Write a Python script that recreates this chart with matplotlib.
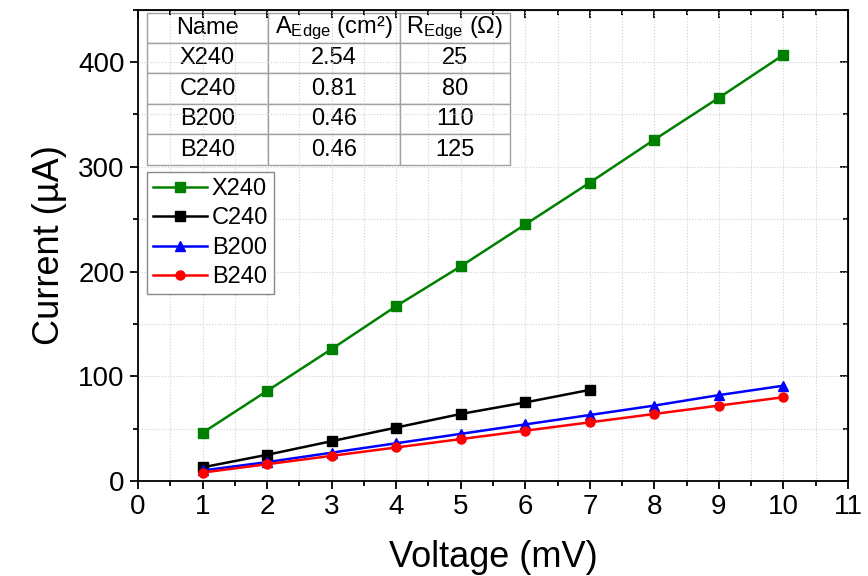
import matplotlib.pyplot as plt
from matplotlib.ticker import MultipleLocator

plt.rcParams['font.family'] = ['Liberation Sans', 'DejaVu Sans']
plt.rcParams['mathtext.default'] = 'regular'

# data
voltage = [1, 2, 3, 4, 5, 6, 7, 8, 9, 10]
x240 = [46, 86, 126, 167, 205, 245, 285, 326, 366, 407]
c240_v = [1, 2, 3, 4, 5, 6, 7]
c240 = [13, 25, 38, 51, 64, 75, 87]
b200 = [10, 18, 27, 36, 45, 54, 63, 72, 82, 91]
b240 = [8, 16, 24, 32, 40, 48, 56, 64, 72, 80]

table_header = ['Name', r'A$_{Edge}$ (cm²)', r'R$_{Edge}$ ($\Omega$)']
table_names = ['X240', 'C240', 'B200', 'B240']
table_area = ['2.54', '0.81', '0.46', '0.46']
table_res = ['25', '80', '110', '125']

fig = plt.figure(figsize=(8.68, 5.76), dpi=100)
ax = fig.add_axes([0.159, 0.165, 0.818, 0.818])

ax.plot(voltage, x240, '-s', color='#008000', lw=1.8, ms=6.5, label='X240')
ax.plot(c240_v, c240, '-s', color='black', lw=1.8, ms=6.5, label='C240')
ax.plot(voltage, b200, '-^', color='#0000ff', lw=1.8, ms=7.5, label='B200')
ax.plot(voltage, b240, '-o', color='#ff0000', lw=1.8, ms=6.5, label='B240')

ax.set_xlim(0, 11)
ax.set_ylim(0, 450)
ax.xaxis.set_major_locator(MultipleLocator(1))
ax.xaxis.set_minor_locator(MultipleLocator(0.5))
ax.yaxis.set_major_locator(MultipleLocator(100))
ax.yaxis.set_minor_locator(MultipleLocator(50))
ax.grid(True, which='both', color='#d0d0d0', ls=':', lw=0.8)
ax.set_axisbelow(True)

ax.tick_params(which='both', direction='out', labelsize=20, width=1.3)
ax.tick_params(which='major', length=6)
ax.tick_params(which='minor', length=3.5)
for s in ax.spines.values():
    s.set_linewidth(1.3)

# mirrored ticks on top and right, pointing in
top = ax.secondary_xaxis('top')
top.xaxis.set_major_locator(MultipleLocator(1))
top.xaxis.set_minor_locator(MultipleLocator(0.5))
top.tick_params(which='both', direction='in', labeltop=False, width=1.3)
top.tick_params(which='major', length=6)
top.tick_params(which='minor', length=3.5)
right = ax.secondary_yaxis('right')
right.yaxis.set_major_locator(MultipleLocator(100))
right.yaxis.set_minor_locator(MultipleLocator(50))
right.tick_params(which='both', direction='in', labelright=False, width=1.3)
right.tick_params(which='major', length=6)
right.tick_params(which='minor', length=3.5)

ax.set_xlabel('Voltage (mV)', fontsize=26, labelpad=14)
ax.set_ylabel('Current (µA)', fontsize=26, labelpad=8)

rows = [table_header] + [[n, a, r] for n, a, r in zip(table_names, table_area, table_res)]
tbl = ax.table(cellText=rows, cellLoc='center', colWidths=[121, 132, 110],
               bbox=[0.0127, 0.671, 0.511, 0.323])
tbl.auto_set_font_size(False)
for cell in tbl.get_celld().values():
    cell.set_fontsize(17)
    cell.set_edgecolor('#a0a0a0')
    cell.set_linewidth(1.0)
    cell.set_facecolor('white')

leg = ax.legend(loc='upper left', bbox_to_anchor=(0.0127, 0.656), fontsize=17,
                fancybox=False, edgecolor='#888888', framealpha=1,
                borderaxespad=0, handlelength=2.3, handletextpad=0.2,
                labelspacing=0.32, borderpad=0.25)
leg.get_frame().set_linewidth(1.0)

fig.savefig('out.png', dpi=100)
